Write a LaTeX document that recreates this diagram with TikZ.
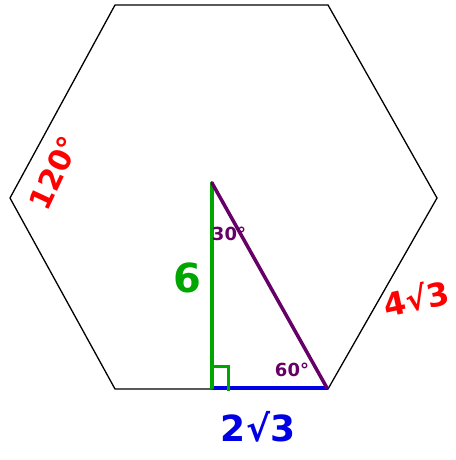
\documentclass[tikz,border=0pt]{standalone}
\usepackage{fontspec}
\setmainfont{DejaVu Sans}
\usetikzlibrary{positioning}

\begin{document}
\begin{tikzpicture}[
  x=1pt, y=1pt,
  hexline/.style={draw=black, line width=1.3pt, line join=miter},
  leg/.style={line width=3.5pt, line cap=round},
  lbl/.style={inner sep=0pt}
]
\useasboundingbox (0,0) rectangle (455,460);

% Hexagon corners
\coordinate (tl) at (115,455);
\coordinate (tr) at (328,455);
\coordinate (r)  at (437,262);
\coordinate (br) at (328,71);
\coordinate (bl) at (115,71);
\coordinate (l)  at (10,262);
\draw[hexline] (tl) -- (tr) -- (r) -- (br) -- (bl) -- (l) -- cycle;

% Triangle
\coordinate (apex) at (212,277);
\coordinate (foot) at (212,72);
\coordinate (corner) at (327,72);
\draw[leg, color=blue!90!black] (foot) -- (corner);
\draw[leg, color=green!65!black] (apex) -- (foot);
\draw[leg, color=violet!80!black] (apex) -- (corner);
\coordinate (ra1) at (212,93);
\coordinate (ra2) at (228,93);
\coordinate (ra3) at (228,69);
\draw[line width=3pt, color=green!65!black] (ra1) -- (ra2) -- (ra3);

% Labels
\node[lbl, text=red, rotate=65, font=\bfseries\fontsize{30}{30}\selectfont] (ang) at (54,287) {120°};
\node[lbl, text=red, rotate=12, font=\bfseries\fontsize{32}{32}\selectfont] (side) at (416,162) {4√3};
\node[lbl, text=green!65!black, font=\bfseries\fontsize{40}{40}\selectfont] (height) at (187,182) {6};
\node[lbl, text=blue!90!black, font=\bfseries\fontsize{36}{36}\selectfont] (base) at (258,33) {2√3};
\node[lbl, text=violet!80!black, font=\bfseries\fontsize{18}{18}\selectfont] (top) at (229,226) {30°};
\node[lbl, text=violet!80!black, font=\bfseries\fontsize{18}{18}\selectfont] (bot) at (292,90) {60°};
\end{tikzpicture}
\end{document}
